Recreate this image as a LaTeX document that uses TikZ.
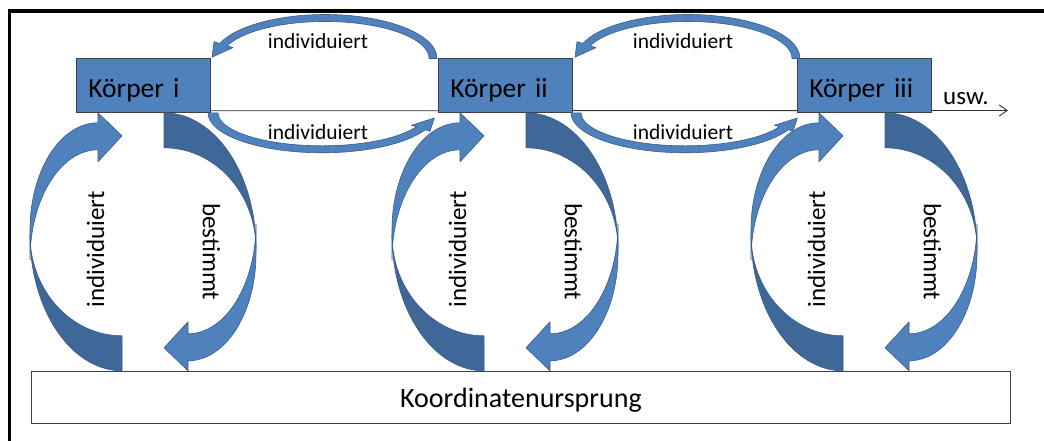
\documentclass[tikz,border=0pt]{standalone}
\usepackage{fontspec}
\setmainfont{Carlito}
\usetikzlibrary{arrows.meta,calc,backgrounds}
\definecolor{boxblue}{HTML}{4F81BD}
\definecolor{backblue}{HTML}{3F6797}
\definecolor{edgeblue}{HTML}{385D8A}
\tikzset{
  koerper/.style={draw=black!75, line width=0.8pt, fill=boxblue, anchor=north west,
    text width=110pt, inner xsep=12pt, inner ysep=0pt, minimum height=53.5pt, align=left,
    text height=24pt, text depth=1pt, font=\fontsize{27.5}{30}\selectfont},
  lbl/.style={inner sep=0pt, font=\fontsize{21.5}{24}\selectfont},
  vlbl/.style={inner sep=0pt, font=\fontsize{25}{28}\selectfont},
  frontfill/.style={fill=boxblue, draw=edgeblue, line width=0.6pt, line join=round},
  backfill/.style={fill=backblue, draw=edgeblue, line width=0.6pt, line join=round},
  bendup/.pic={
    \path[backfill] (46,-258) arc[start angle=270,end angle=180,x radius=92,y radius=136]
      arc[start angle=180,end angle=270,x radius=92,y radius=101] -- cycle;
    \path[frontfill] (22,-10) -- (22,0) -- (46,-23) -- (22,-49) -- (22,-37)
      arc[start angle=90,end angle=180,x radius=68,y radius=110] -- (-46,-117)
      arc[start angle=180,end angle=90,x radius=68,y radius=107] -- cycle;
  },
  benddown/.pic={
    \begin{scope}[rotate around={180:(67,-129)}]
    \path[backfill] (46,-258) arc[start angle=270,end angle=180,x radius=92,y radius=136]
      arc[start angle=180,end angle=270,x radius=92,y radius=101] -- cycle;
    \path[frontfill] (22,-10) -- (22,0) -- (46,-23) -- (22,-49) -- (22,-37)
      arc[start angle=90,end angle=180,x radius=68,y radius=110] -- (-46,-117)
      arc[start angle=180,end angle=90,x radius=68,y radius=107] -- cycle;
    \end{scope}
  },
  uparc/.pic={
    \path[frontfill] (-1,0) arc[start angle=0,end angle=160,x radius=112,y radius=44]
      -- (-224,16.8) -- (-226,1.3) -- (-205,10.9) -- (-210.73,12.65)
      arc[start angle=160,end angle=0,x radius=104,y radius=37] -- cycle;
  },
  lowarc/.pic={
    \path[frontfill] (-230,0) arc[start angle=180,end angle=335,x radius=114,y radius=40]
      -- (-8,-18.5) -- (-3.6,-5.2) -- (-26.5,-12.4) -- (-21.75,-13.95)
      arc[start angle=335,end angle=180,x radius=104,y radius=33] -- cycle;
  },
}
\begin{document}
\begin{tikzpicture}[x=1pt,y=1pt]
\useasboundingbox (0,0) rectangle (1044,-441);
% frame
\draw[line width=3.4pt, black] (9.5,-441) -- (9.5,-11) -- (1044,-11);
% boxes
\node[koerper] (k1) at (76,-58.5) {Körper i};
\node[koerper] (k2) at (438,-58.5) {Körper ii};
\node[koerper] (k3) at (797,-58.5) {Körper iii};
\node[draw=black!75, line width=0.9pt, anchor=north west, minimum width=979pt,
  minimum height=52pt, inner sep=0pt, text height=24pt, text depth=4pt,
  font=\fontsize{28}{30}\selectfont] (ku) at (31,-371) {Koordinatenursprung};
% timeline, behind the bodies
\coordinate (tlend) at (1008,-110.5);
\begin{scope}[on background layer]
\fill[white] (0,0) rectangle (1044,-441);
\draw[line width=0.9pt, black!80, -{Straight Barb[length=8pt,width=11pt]}]
  ($(k1.south east)+(0,2)$) -- (tlend);
\end{scope}
\node[anchor=base west, inner sep=0pt, font=\fontsize{25}{28}\selectfont] (usw) at (943,-105) {usw.};
% thin arcs between bodies
\pic at (k2.north west) {uparc};
\pic at (k2.south west) {lowarc};
\pic at ($(k3.north west)+(4,0)$) {uparc};
\pic at ($(k3.south west)+(4,0)$) {lowarc};
\node[lbl, anchor=base] (u1) at (318,-49) {individuiert};
\node[lbl, anchor=base] (d1) at (318,-140) {individuiert};
\node[lbl, anchor=base] (u2) at (683,-49) {individuiert};
\node[lbl, anchor=base] (d2) at (683,-140) {individuiert};
% big curved arrows
\foreach \k in {k1,k2,k3}{
  \pic at (\k.south west) {bendup};
  \pic at (\k.south west) {benddown};
  \node[vlbl, rotate=90] at ($(\k.south west)+(19.5,-136.5)$) {individuiert};
  \node[vlbl, rotate=-90] at ($(\k.south west)+(135.5,-139)$) {bestimmt};
}
\end{tikzpicture}
\end{document}
